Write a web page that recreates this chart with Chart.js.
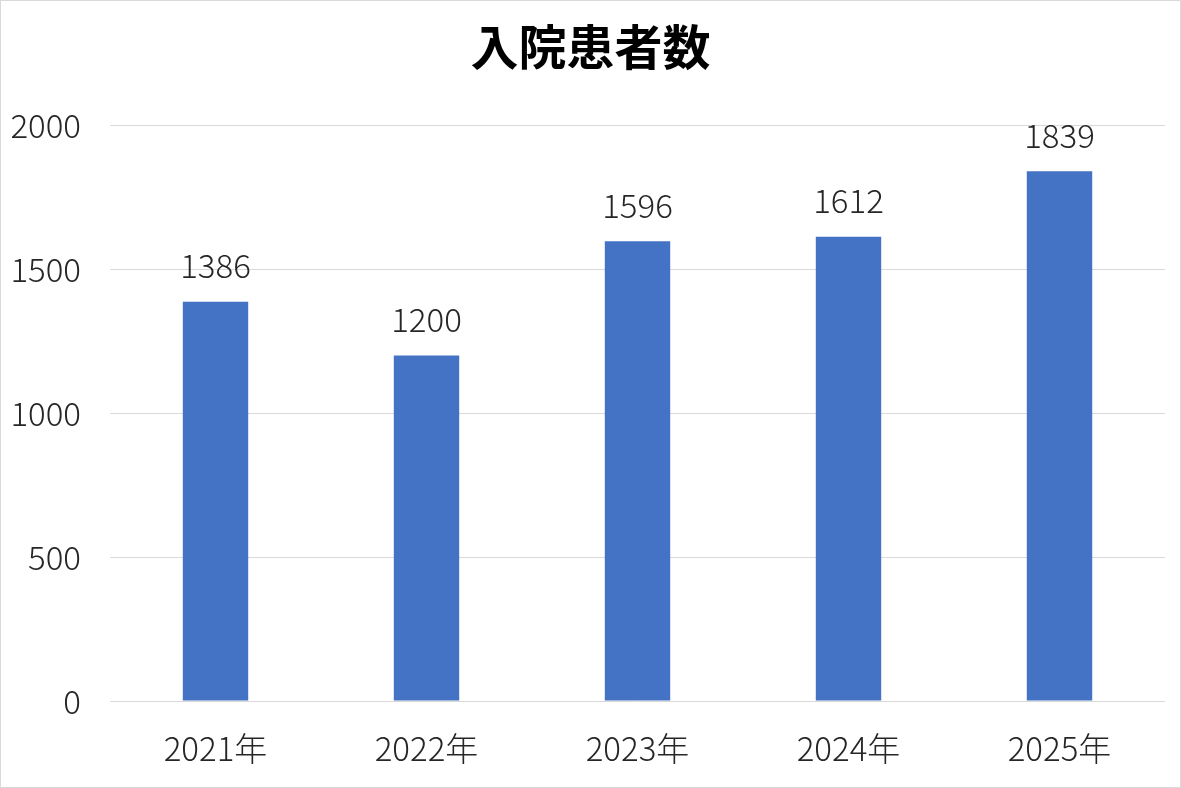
<!DOCTYPE html>
<html>
<head>
<meta charset="utf-8">
<script src="https://cdn.jsdelivr.net/npm/chart.js@4/dist/chart.umd.min.js"></script>
<style>
    html, body { margin: 0; padding: 0; background: #fff; }
    #wrap {
        position: absolute; left: 0; top: 0;
        width: 1179px; height: 786px;
        border: 1px solid #d9d9d9;
    }
    canvas { display: block; }
</style>
</head>
<body>
<div id="wrap"><canvas id="myBarChart" width="1179" height="786"></canvas></div>
<script>
const chartTitle = '入院患者数';
const years = ['2021年', '2022年', '2023年', '2024年', '2025年'];
const patients = [1386, 1200, 1596, 1612, 1839];
const yTicks = [0, 500, 1000, 1500, 2000];

const FONT = "'Noto Sans CJK JP', 'Noto Sans', sans-serif";

// title centred on the whole canvas (built-in title centres on the padded box)
const centeredTitle = {
    id: 'centeredTitle',
    afterDraw(chart) {
        const ctx = chart.ctx;
        ctx.save();
        ctx.font = 'bold 48px ' + FONT;
        ctx.fillStyle = '#000';
        ctx.textAlign = 'center';
        ctx.textBaseline = 'middle';
        ctx.fillText(chartTitle, chart.width / 2, 46);
        ctx.restore();
    }
};

// simple value labels above each bar
const valueLabels = {
    id: 'valueLabels',
    afterDatasetsDraw(chart) {
        const ctx = chart.ctx;
        const meta = chart.getDatasetMeta(0);
        ctx.save();
        ctx.font = '300 33px ' + FONT;
        ctx.fillStyle = '#262626';
        ctx.textAlign = 'center';
        ctx.textBaseline = 'middle';
        meta.data.forEach((bar, i) => {
            ctx.fillText(String(patients[i]), bar.x, bar.y - 36);
        });
        ctx.restore();
    }
};

function createBarChart() {
    const config = {
        type: 'bar',
        data: {
            labels: years,
            datasets: [{
                label: chartTitle,
                data: patients,
                backgroundColor: '#4472C4',
                borderWidth: 0,
                barPercentage: 0.31,
                categoryPercentage: 1
            }]
        },
        options: {
            responsive: false,
            animation: false,
            layout: {
                padding: { left: 0, right: 15, top: 124, bottom: 20 }
            },
            plugins: {
                legend: { display: false },
                tooltip: { enabled: false },
                title: { display: false }
            },
            scales: {
                x: {
                    grid: { display: false, drawTicks: false },
                    border: { display: false },
                    afterFit(axis) {
                        axis.height = 66;
                    },
                    ticks: {
                        color: '#262626',
                        padding: 28,
                        font: { family: FONT, size: 33, weight: '300' }
                    }
                },
                y: {
                    min: 0,
                    max: 2000,
                    afterBuildTicks(axis) {
                        axis.ticks = yTicks.map(v => ({ value: v }));
                    },
                    afterFit(axis) {
                        axis.width = 109;
                    },
                    grid: { color: '#d9d9d9', lineWidth: 1, drawTicks: false },
                    border: { display: false },
                    ticks: {
                        color: '#262626',
                        padding: 29,
                        callback: (v) => String(v),
                        font: { family: FONT, size: 33, weight: '300' }
                    }
                }
            }
        },
        plugins: [valueLabels, centeredTitle]
    };
    const ctx = document.getElementById('myBarChart').getContext('2d');
    new Chart(ctx, config);
}

window.onload = createBarChart;
</script>
</body>
</html>
